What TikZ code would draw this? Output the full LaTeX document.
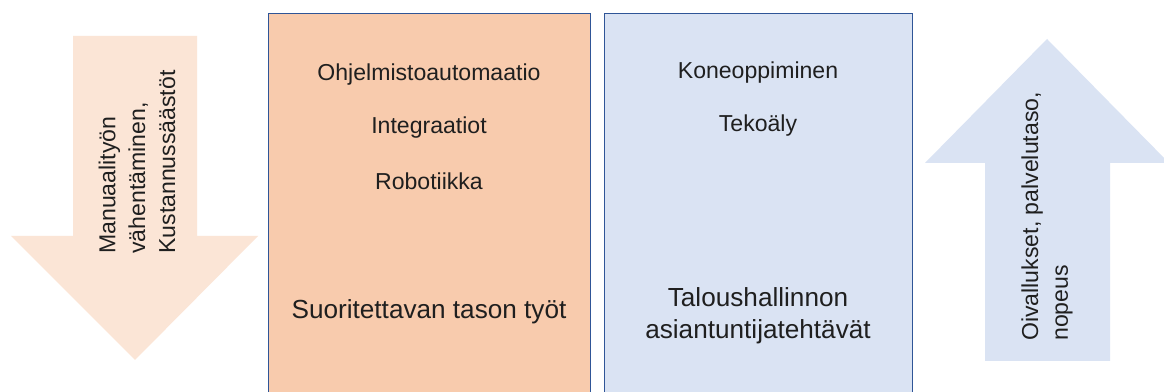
\documentclass[tikz,border=0pt]{standalone}
\usepackage{fontspec}
\setmainfont{Liberation Sans}
\usetikzlibrary{positioning}
\definecolor{peach}{HTML}{F8CBAD}
\definecolor{lightpeach}{HTML}{FBE5D6}
\definecolor{paleblue}{HTML}{DAE3F3}
\definecolor{frameblue}{HTML}{2F5597}

\begin{document}
\begin{tikzpicture}[
  x=0.025cm, y=-0.025cm,
  every node/.style={inner sep=0pt, text=black!88},
  panel/.style={draw=frameblue, line width=0.9pt, anchor=north west, minimum height=9.8cm},
  item/.style={font=\fontsize{16.4}{20}\selectfont},
  title/.style={font=\fontsize{18.6}{22.5}\selectfont, align=center},
  side/.style={rotate=90, anchor=west, align=left, font=\fontsize{16.4}{21.3}\selectfont}
]
\clip (0,0) rectangle (1164,392);
\fill[white] (0,0) rectangle (1164,392);

% left arrow (down)
\fill[lightpeach] (73,36) -- (197,36) -- (197,236) -- (258,236) -- (135,360) -- (11,236) -- (73,236) -- cycle;
\node[side] (less) at (137,254) {Manuaalityön\\vähentäminen,\\Kustannussäästöt};

% panels
\node[panel, fill=peach, minimum width=8.05cm] (routine) at (268,13) {};
\node[panel, fill=paleblue, minimum width=7.7cm] (expert) at (604,13) {};

\node[item] (ohj) at (429,75) {Ohjelmistoautomaatio};
\node[item] (int) at (429,128) {Integraatiot};
\node[item] (rob) at (429,181) {Robotiikka};
\node[title] (suor) at (429,312) {Suoritettavan tason työt};

\node[item] (kone) at (758,73) {Koneoppiminen};
\node[item] (teko) at (758,126) {Tekoäly};
\node[title] (talo) at (758,316) {Taloushallinnon\\asiantuntijatehtävät};

% right arrow (up)
\fill[paleblue] (985,361) -- (1110,361) -- (1110,163) -- (1169,163) -- (1047,39) -- (925,163) -- (985,163) -- cycle;
\node[side] (more) at (1047,341) {Oivallukset, palvelutaso,\\nopeus};
\end{tikzpicture}
\end{document}
